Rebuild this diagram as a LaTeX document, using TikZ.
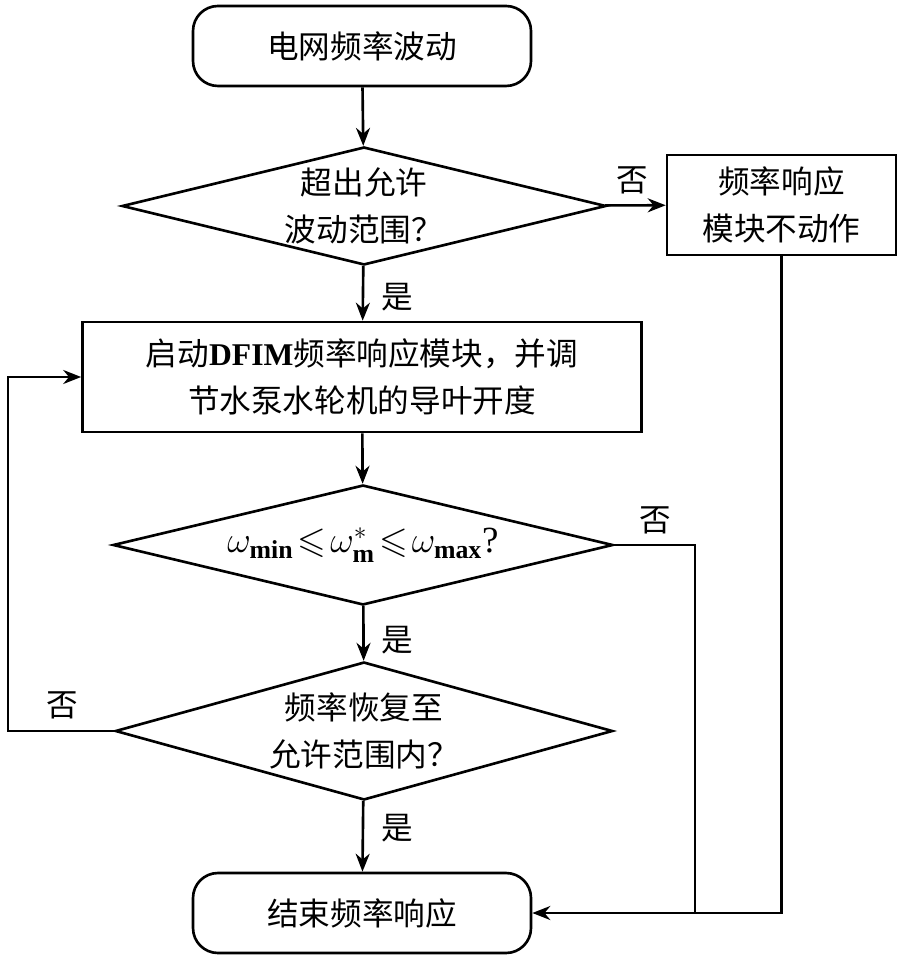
\documentclass[tikz,border=0pt]{standalone}
\usepackage{amsmath,amssymb}
\usepackage{fontspec}
\setmainfont{Liberation Serif}
\newfontfamily\cjk{Noto Sans CJK SC}
\usetikzlibrary{shapes.geometric,arrows.meta,positioning}
\usepackage{xcolor}
\definecolor{ink}{HTML}{000000}

\begin{document}
\begin{tikzpicture}[>={Stealth[length=0.36cm,width=0.28cm]}, line width=1.5pt,
    every node/.style={font=\cjk\fontsize{18}{27}\selectfont, text=ink, align=center},
    termbox/.style={draw=ink, rounded corners=0.5cm, minimum width=6.76cm, minimum height=1.6cm},
    procbox/.style={draw=ink, minimum height=2.0cm},
    decbox/.style={draw=ink, diamond, aspect=4, inner sep=0pt},
    flow/.style={->, draw=ink}]
  \useasboundingbox (0,0) rectangle (18.14,-19.18);

  % main column
  \node[termbox] (start) at (7.24,-0.92) {电网频率波动};
  \node[decbox, minimum width=9.68cm, minimum height=2.36cm] (dec1) at (7.28,-4.12) {超出允许\\波动范围？};
  \node[procbox, minimum width=4.58cm] (noact) at (15.63,-4.10) {频率响应\\模块不动作};
  \node[procbox, minimum width=11.18cm, minimum height=2.2cm] (act) at (7.24,-7.54) {启动{\rmfamily\bfseries DFIM}频率响应模块，并调\\节水泵水轮机的导叶开度};
  \node[decbox, minimum width=10.0cm, minimum height=2.4cm, font=\rmfamily\fontsize{21}{27}\selectfont] (dec2) at (7.26,-10.9) {$\omega_{\mathrm{\mathbf{min}}}\!\leqslant\!\omega^{*}_{\mathrm{\mathbf{m}}}\!\leqslant\!\omega_{\mathrm{\mathbf{max}}}$?};
  \node[decbox, minimum width=9.68cm, minimum height=2.76cm] (dec3) at (7.28,-14.62) {频率恢复至\\允许范围内？};
  \node[termbox] (end) at (7.24,-18.26) {结束频率响应};

  % helper points
  \coordinate (join) at (13.9,-18.26);
  \coordinate (loop) at (0.16,-14.62);

  \draw[flow] (start) -- (dec1);
  \draw[flow] (dec1) -- (noact);
  \draw[flow] (dec1) -- (act);
  \draw[flow] (act) -- (dec2);
  \draw[flow] (dec2) -- (dec3);
  \draw[flow] (dec3) -- (end);
  \draw[flow] (noact.south) |- (end.east);
  \draw (dec2.east) -| (join);
  \draw[flow] (dec3.west) -- (loop) |- (act.west);

  % branch labels
  \node (no1) at (12.64,-3.6) {否};
  \node (yes1) at (7.94,-5.94) {是};
  \node (no2) at (13.1,-10.4) {否};
  \node (yes2) at (7.94,-12.8) {是};
  \node (no3) at (1.24,-14.1) {否};
  \node (yes3) at (7.94,-16.56) {是};
\end{tikzpicture}
\end{document}
